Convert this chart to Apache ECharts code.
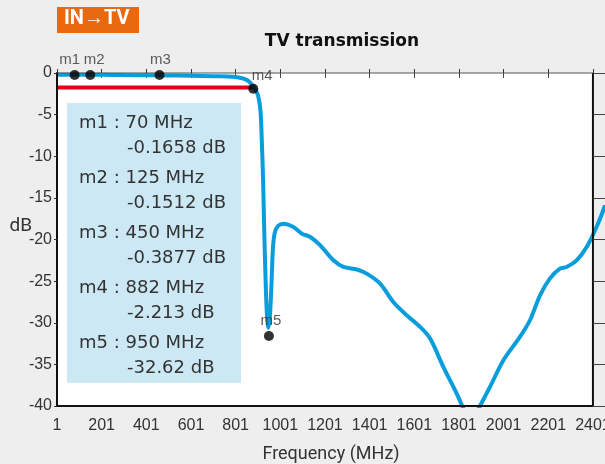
<!DOCTYPE html>
<html>
<head>
<meta charset="utf-8">
<script src="https://cdn.jsdelivr.net/npm/echarts@6/dist/echarts.min.js"></script>
<style>
  html, body { margin: 0; padding: 0; background: #eeeeee; }
  #chart { width: 605px; height: 464px; }
</style>
</head>
<body>
<div id="chart"></div>
<script>
// transmission curve, IN -> TV port (MHz, dB)
const freqs = [1, 100, 200, 300, 400, 500, 600, 700, 790, 852, 880, 900, 912, 918, 924, 930, 937, 943, 948, 955, 962, 968, 976, 990, 1015, 1060, 1098, 1135, 1180, 1239, 1284, 1344, 1388, 1448, 1507, 1567, 1627, 1672, 1731, 1791, 1816, 1854, 1895, 1940, 2000, 2074, 2119, 2164, 2208, 2253, 2283, 2328, 2373, 2417, 2455];
const dbValues = [-0.2, -0.2, -0.22, -0.25, -0.27, -0.3, -0.32, -0.38, -0.45, -0.85, -1.6, -2.6, -4.5, -8, -13, -20, -26.5, -29.8, -30.6, -29, -25, -21, -19.2, -18.4, -18.1, -18.5, -19.3, -19.7, -20.7, -22.5, -23.3, -23.6, -24.1, -25.3, -27.5, -29.1, -30.5, -31.9, -35.3, -38.5, -40, -42.1, -40, -37.7, -34.5, -31.7, -29.7, -26.7, -24.7, -23.5, -23.3, -22.5, -20.9, -18.5, -15.9];

// -2 dB limit line
const limitFreqs = [1, 880];
const limitDb = [-1.75, -1.75];

// axis ranges (the picture is cut a little past 2401 MHz)
const xMin = 1, xEnd = 2401, xCut = 2455, xStep = 200;
const yMin = -40, yMax = 0, yStep = 5;

// markers: plotted position and readout text
const markerNames = ['m1', 'm2', 'm3', 'm4', 'm5'];
const markerFreqs = [80, 150, 460, 880, 950];
const markerDb = [-0.25, -0.25, -0.25, -1.9, -31.6];
const markerFreqText = ['70 MHz', '125 MHz', '450 MHz', '882 MHz', '950 MHz'];
const markerDbText = ['-0.1658 dB', '-0.1512 dB', '-0.3877 dB', '-2.213 dB', '-32.62 dB'];
const markerLabelOffset = [[-5, 0], [4, 0], [1, 0], [9, 3], [2, 0]];

const narrow = '"Liberation Sans Narrow", sans-serif';
const wide = '"DejaVu Sans", sans-serif';
const main = 'Roboto, sans-serif';

const chart = echarts.init(document.getElementById('chart'));

const boxTexts = [];
markerNames.forEach((name, i) => {
  boxTexts.push({
    type: 'text', left: 79, top: 114 + i * 55,
    style: { text: name + ' : ' + markerFreqText[i], fill: '#333', font: '18px ' + wide }
  });
  boxTexts.push({
    type: 'text', left: 127, top: 139 + i * 55,
    style: { text: markerDbText[i], fill: '#333', font: '18px ' + wide }
  });
});

// plot frame pieces, drawn as plain line series
const frameLine = (pts, color, width) => ({
  type: 'line', data: pts, showSymbol: false, silent: true, clip: false,
  lineStyle: { color: color, width: width }, z: 5
});

const option = {
  backgroundColor: '#eeeeee',
  animation: false,
  title: {
    text: 'TV transmission',
    left: 337, top: 28, textAlign: 'center',
    textStyle: { fontFamily: wide, fontSize: 17, fontWeight: 'bold', color: '#111' }
  },
  grid: {
    left: 57, right: 0, top: 73, bottom: 58,
    outerBoundsMode: 'none', containLabel: false,
    show: true, backgroundColor: '#ffffff', borderWidth: 0
  },
  xAxis: [
    {
      type: 'value', position: 'bottom', min: xMin, max: xCut, interval: xStep,
      name: 'Frequency (MHz)', nameLocation: 'middle', nameGap: 39, nameMoveOverlap: false,
      nameTextStyle: { fontFamily: main, fontSize: 18, color: '#333' },
      axisLine: { show: false },
      axisTick: { inside: true, length: 4, lineStyle: { color: '#333' } },
      axisLabel: {
        fontFamily: narrow, fontSize: 16, color: '#333', margin: 12,
        showMaxLabel: false, hideOverlap: false, formatter: v => String(v)
      },
      splitLine: { show: false }
    },
    {
      type: 'value', position: 'top', min: xMin, max: xCut, interval: xStep,
      axisLine: { show: false },
      axisTick: { inside: true, length: 5, lineStyle: { color: '#444' } },
      axisLabel: { show: false },
      splitLine: { show: false }
    }
  ],
  yAxis: [
    {
      type: 'value', position: 'left', min: yMin, max: yMax, interval: yStep,
      name: 'dB', nameLocation: 'middle', nameGap: 25, nameRotate: 0, nameMoveOverlap: false,
      nameTextStyle: { fontFamily: main, fontSize: 19, color: '#333', align: 'right', verticalAlign: 'bottom', padding: [0, 0, 4, 0] },
      axisLine: { show: true, lineStyle: { color: '#111', width: 2 } },
      axisTick: { show: true, length: 3, lineStyle: { color: '#333' } },
      axisLabel: { fontFamily: narrow, fontSize: 16, color: '#333', margin: 5 },
      splitLine: { show: false },
      z: 10
    },
    {
      type: 'value', position: 'right', min: yMin, max: yMax, interval: yStep,
      axisLine: { show: false },
      axisTick: { show: true, inside: true, length: 12, lineStyle: { color: '#444' } },
      axisLabel: { show: false },
      splitLine: { show: false },
      z: 10
    }
  ],
  series: [
    {
      // grey margin right of the 2401 MHz edge
      type: 'line', data: [[xEnd, yMax], [xCut, yMax]],
      showSymbol: false, silent: true,
      lineStyle: { width: 0 },
      areaStyle: { color: '#eeeeee', opacity: 1, origin: 'start' },
      z: 1
    },
    {
      type: 'line',
      data: limitFreqs.map((f, i) => [f, limitDb[i]]),
      showSymbol: false,
      lineStyle: { color: '#e2001a', width: 4 },
      z: 2
    },
    {
      type: 'line',
      data: freqs.map((f, i) => [f, dbValues[i]]),
      smooth: 0.3,
      showSymbol: false,
      lineStyle: { color: '#0a9ddb', width: 4 },
      z: 3
    },
    frameLine([[xMin, yMax], [xEnd, yMax]], '#555', 1),
    frameLine([[xMin, yMin], [xEnd, yMin]], '#111', 2),
    frameLine([[xEnd, yMin], [xEnd, yMax]], '#111', 2),
    {
      type: 'scatter',
      data: markerNames.map((name, i) => ({
        value: [markerFreqs[i], markerDb[i]],
        name: name,
        label: { offset: markerLabelOffset[i] }
      })),
      symbolSize: 10,
      itemStyle: { color: '#000' },
      label: {
        show: true, position: 'top', distance: 3,
        formatter: p => p.name,
        fontFamily: narrow, fontSize: 15, color: '#333'
      },
      z: 6
    }
  ],
  graphic: [
    {
      type: 'rect', left: 57, top: 7,
      shape: { width: 82, height: 26 },
      style: { fill: '#e8690f' }
    },
    {
      type: 'text', left: 64, top: 9,
      style: { text: 'IN\u2192TV', fill: '#fff', font: 'bold 20px ' + main }
    },
    {
      type: 'rect', left: 67, top: 103,
      shape: { width: 174, height: 280 },
      style: { fill: '#cde8f5' }
    },
    ...boxTexts
  ]
};

chart.setOption(option);
</script>
</body>
</html>
